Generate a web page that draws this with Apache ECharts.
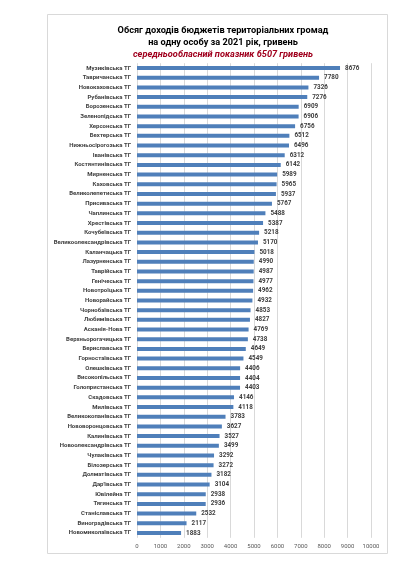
<!DOCTYPE html>
<html>
<head>
<meta charset="utf-8">
<script src="https://cdn.jsdelivr.net/npm/echarts@6/dist/echarts.min.js"></script>
<style>
html,body{margin:0;padding:0;background:#fff;}
#c{width:400px;height:565px;}
</style>
</head>
<body>
<div id="c"></div>
<script>
var titleLines = ["Обсяг доходів бюджетів територіальних громад", "на одну особу за 2021 рік, гривень"];
var subtitleText = "середньообласний показник 6507 гривень";
var categories = ["Музиківська ТГ","Тавричанська ТГ","Новокаховська ТГ","Рубанівська ТГ","Борозенська ТГ","Зеленопідська ТГ","Херсонська ТГ","Бехтерська ТГ","Нижньосірогозька ТГ","Іванівська ТГ","Костянтинівська ТГ","Мирненська ТГ","Каховська ТГ","Великолепетиська ТГ","Присиваська ТГ","Чаплинська ТГ","Хрестівська ТГ","Кочубеївська ТГ","Великоолександрівська ТГ","Каланчацька ТГ","Лазурненська ТГ","Таврійська ТГ","Генічеська ТГ","Новотроїцька ТГ","Новорайська ТГ","Чорнобаївська ТГ","Любимівська ТГ","Асканія-Нова ТГ","Верхньорогачицька ТГ","Бериславська ТГ","Горностаївська ТГ","Олешківська ТГ","Високопільська ТГ","Голопристанська ТГ","Скадовська ТГ","Милівська ТГ","Великокопанівська ТГ","Нововоронцовська ТГ","Калинівська ТГ","Новоолександрівська ТГ","Чулаківська ТГ","Білозерська ТГ","Долматівська ТГ","Дар'ївська ТГ","Ювілейна ТГ","Тягинська ТГ","Станіславська ТГ","Виноградівська ТГ","Новомиколаївська ТГ"];
var values = [8676,7780,7326,7276,6909,6906,6756,6512,6496,6312,6142,5989,5965,5937,5767,5488,5387,5218,5170,5018,4990,4987,4977,4962,4932,4853,4827,4769,4738,4649,4549,4406,4404,4403,4146,4118,3783,3627,3527,3499,3292,3272,3182,3104,2938,2936,2532,2117,1883];
var axisMin = 0, axisMax = 10000, axisStep = 1000;

var chart = echarts.init(document.getElementById('c'), null, {renderer:'canvas'});
var ff = "'Liberation Sans Narrow','Roboto','Noto Sans',sans-serif";
chart.setOption({
  animation:false,
  backgroundColor:'#fff',
  graphic:[{
    type:'rect', left:47, top:14, shape:{width:340, height:539},
    style:{fill:'#fff', stroke:'#d9d9d9', lineWidth:1}, z:-10
  }],
  title:[
    {text:titleLines[0], left:218, top:21, textAlign:'center',
     textStyle:{fontFamily:ff, fontSize:9.2, fontWeight:'bold', color:'#000'}},
    {text:titleLines[1], left:218, top:33, textAlign:'center',
     textStyle:{fontFamily:ff, fontSize:9.2, fontWeight:'bold', color:'#000'}},
    {text:subtitleText, left:218, top:45.5, textAlign:'center',
     textStyle:{fontFamily:ff, fontSize:9.2, fontWeight:'bold', fontStyle:'italic', color:'#a0001e'}}
  ],
  grid:{left:137, right:29, top:63.2, bottom:27.2, containLabel:false},
  xAxis:{
    type:'value', min:axisMin, max:axisMax, interval:axisStep,
    axisLine:{show:false}, axisTick:{show:false},
    splitLine:{show:true, lineStyle:{color:'#d9d9d9', width:1}},
    axisLabel:{fontFamily:ff, fontSize:6, color:'#595959', margin:6, formatter:function(v){return String(v);}}
  },
  yAxis:{
    type:'category', data:categories, inverse:true,
    axisLine:{show:false}, axisTick:{show:false},
    axisLabel:{fontFamily:ff, fontSize:6, fontWeight:'bold', color:'#404040', margin:6}
  },
  series:[{
    type:'bar', data:values, barWidth:4,
    itemStyle:{color:'#4f7fba'},
    label:{show:true, position:'right', distance:5, fontFamily:ff, fontSize:6.3, fontWeight:'bold', color:'#404040'}
  }]
});
</script>
</body>
</html>
